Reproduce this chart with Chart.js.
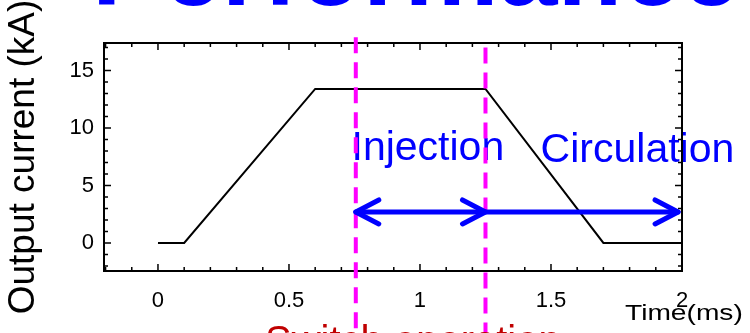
<!DOCTYPE html>
<html>
<head>
<meta charset="utf-8">
<script src="https://cdn.jsdelivr.net/npm/chart.js@4.4.0/dist/chart.umd.min.js"></script>
<style>
  html, body { margin: 0; padding: 0; background: #fff; }
  #wrap { width: 750px; height: 333px; }
</style>
</head>
<body>
<div id="wrap"><canvas id="pulseChart" width="750" height="333"></canvas></div>
<script>
// output current pulse
const timeMs = [0, 0.1, 0.6, 1.25, 1.7, 2.0];
const currentKA = [0, 0, 13.4, 13.4, 0, 0];

// tick labels
const xTickValues = [0, 0.5, 1, 1.5, 2];
const yTickValues = [0, 5, 10, 15];

// switch timing markers (ms), where their dashes start (kA)
const switchTimes = [0.755, 1.25];
const switchTopKA = [17.9, 17.0];

// arrows under the labels
const arrowKA = 2.7;
const injectionSpan = [0.755, 1.25];
const circulationSpan = [1.25, 1.985];

const fontFam = '"Liberation Sans", Arial, sans-serif';

function arrowHead(ctx, x, y, dir) {
    ctx.beginPath();
    ctx.moveTo(x - dir * 23, y - 12);
    ctx.lineTo(x, y);
    ctx.lineTo(x - dir * 23, y + 12);
    ctx.stroke();
}

const overlay = {
    id: 'overlay',
    afterDatasetsDraw(chart) {
        const { ctx, chartArea: a, scales: { x, y } } = chart;
        ctx.save();

        // labels
        ctx.fillStyle = '#0000ff';
        ctx.font = '41px ' + fontFam;
        ctx.textAlign = 'center';
        ctx.textBaseline = 'alphabetic';
        ctx.fillText('Injection', x.getPixelForValue(1.03), 160);
        ctx.fillText('Circulation', x.getPixelForValue(1.83), 162);

        // frame with inward ticks
        ctx.strokeStyle = '#000';
        ctx.lineWidth = 2;
        ctx.strokeRect(a.left, a.top, a.right - a.left, a.bottom - a.top);
        ctx.lineWidth = 1.5;
        ctx.beginPath();
        for (let i = -2; i <= 20; i++) {
            const px = x.getPixelForValue(i / 10);
            const len = i % 5 === 0 ? 7 : 4;
            ctx.moveTo(px, a.bottom); ctx.lineTo(px, a.bottom - len);
            ctx.moveTo(px, a.top); ctx.lineTo(px, a.top + len);
        }
        for (let j = -2; j <= 17; j++) {
            const py = y.getPixelForValue(j);
            const len = j % 5 === 0 ? 7 : 4;
            ctx.moveTo(a.left, py); ctx.lineTo(a.left + len, py);
            ctx.moveTo(a.right, py); ctx.lineTo(a.right - len, py);
        }
        ctx.stroke();

        // switch timing lines
        ctx.strokeStyle = '#ff00ff';
        ctx.lineWidth = 4;
        ctx.setLineDash([16, 9]);
        switchTimes.forEach((t, i) => {
            const px = x.getPixelForValue(t);
            ctx.beginPath();
            ctx.moveTo(px, y.getPixelForValue(switchTopKA[i]));
            ctx.lineTo(px, chart.height);
            ctx.stroke();
        });
        ctx.setLineDash([]);

        // arrows
        ctx.strokeStyle = '#0000ff';
        ctx.lineWidth = 5;
        ctx.lineCap = 'round';
        ctx.lineJoin = 'round';
        const ay = y.getPixelForValue(arrowKA);
        const i0 = x.getPixelForValue(injectionSpan[0]);
        const i1 = x.getPixelForValue(injectionSpan[1]);
        const c0 = x.getPixelForValue(circulationSpan[0]);
        const c1 = x.getPixelForValue(circulationSpan[1]);
        ctx.beginPath();
        ctx.moveTo(i0, ay); ctx.lineTo(i1, ay);
        ctx.moveTo(c0, ay); ctx.lineTo(c1, ay);
        ctx.stroke();
        arrowHead(ctx, i0, ay, -1);
        arrowHead(ctx, i1, ay, 1);
        arrowHead(ctx, c1, ay, 1);

        ctx.restore();
    },
    afterDraw(chart) {
        const ctx = chart.ctx;
        ctx.save();
        ctx.textAlign = 'left';
        ctx.textBaseline = 'alphabetic';

        // axis name, stretched like the pasted plot
        ctx.fillStyle = '#000';
        ctx.translate(625, 320);
        ctx.scale(1.28, 1);
        ctx.font = '22px ' + fontFam;
        ctx.fillText('Time(ms)', 0, 0);
        ctx.setTransform(1, 0, 0, 1, 0, 0);

        // slide text cut by the crop
        ctx.fillStyle = '#c00000';
        ctx.font = '40px ' + fontFam;
        ctx.fillText('Switch operation', 265, 354);

        ctx.fillStyle = '#0000ff';
        ctx.font = 'bold 106px ' + fontFam;
        ctx.fillText('Performance', 92, 5);
        ctx.restore();
    }
};

new Chart(document.getElementById('pulseChart'), {
    type: 'line',
    data: {
        datasets: [{
            data: timeMs.map((t, i) => ({ x: t, y: currentKA[i] })),
            borderColor: '#000',
            borderWidth: 2,
            pointRadius: 0,
            tension: 0,
            fill: false
        }]
    },
    options: {
        responsive: false,
        animation: false,
        devicePixelRatio: 1,
        layout: { padding: { left: 0, top: 43, right: 68, bottom: 0 } },
        plugins: {
            legend: { display: false },
            tooltip: { enabled: false }
        },
        scales: {
            x: {
                type: 'linear',
                min: -0.206,
                max: 2,
                afterBuildTicks: s => { s.ticks = xTickValues.map(v => ({ value: v })); },
                afterFit: s => { s.height = 62; },
                grid: { display: false, drawTicks: false },
                border: { display: false },
                ticks: {
                    color: '#000',
                    font: { family: fontFam, size: 22 },
                    padding: 17,
                    maxRotation: 0,
                    autoSkip: false,
                    callback: v => String(v)
                }
            },
            y: {
                min: -2.44,
                max: 17.4,
                afterBuildTicks: s => { s.ticks = yTickValues.map(v => ({ value: v })); },
                afterFit: s => { s.width = 104; },
                grid: { display: false, drawTicks: false },
                border: { display: false },
                ticks: {
                    color: '#000',
                    font: { family: fontFam, size: 22 },
                    padding: 10,
                    autoSkip: false,
                    callback: v => String(v)
                },
                title: {
                    display: true,
                    text: 'Output current (kA)',
                    color: '#000',
                    font: { family: fontFam, size: 37 },
                    padding: { top: 2, bottom: 0 }
                }
            }
        }
    },
    plugins: [overlay]
});
</script>
</body>
</html>
